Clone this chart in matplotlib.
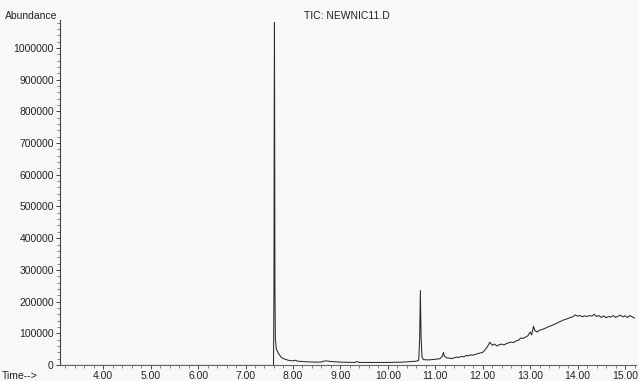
import matplotlib.pyplot as plt
from matplotlib.ticker import MultipleLocator

plt.rcParams['font.family'] = ['Liberation Sans', 'DejaVu Sans']

# retention time (min) and abundance
baseline_time = [3.09, 7.59]
baseline_abund = [0, 0]

time = [7.59, 7.60, 7.605, 7.61, 7.615, 7.62, 7.63, 7.65, 7.70, 7.75, 7.80, 7.90,
        8.00, 8.05, 8.10, 8.30, 8.50, 8.60, 8.65, 8.70, 8.80, 9.00, 9.30, 9.35,
        9.40, 9.70, 10.00, 10.30, 10.60, 10.65, 10.67, 10.685, 10.70, 10.72, 10.75,
        10.85, 11.00, 11.10, 11.15, 11.17, 11.19, 11.25,
        11.30, 11.35, 11.40, 11.45, 11.50, 11.55, 11.60, 11.65, 11.70, 11.75,
        11.80, 11.85, 11.90, 11.95, 12.00, 12.05, 12.10, 12.15, 12.20, 12.25,
        12.30, 12.35, 12.40, 12.45, 12.50, 12.55, 12.60, 12.65, 12.70, 12.75,
        12.80, 12.85, 12.90, 12.95, 13.00, 13.03, 13.07, 13.10, 13.15, 13.20,
        13.25, 13.30, 13.35, 13.40, 13.45, 13.50, 13.55, 13.60, 13.65, 13.70,
        13.75, 13.80, 13.85, 13.90, 13.95, 14.00, 14.05, 14.10, 14.15, 14.20,
        14.25, 14.30, 14.35, 14.40, 14.45, 14.50, 14.55, 14.60, 14.65, 14.70,
        14.75, 14.80, 14.85, 14.90, 14.95, 15.00, 15.05, 15.10, 15.15, 15.20]
abundance = [0, 250000, 800000, 1080000, 700000, 250000, 80000, 50000, 35000, 25000, 20000, 15000,
             13000, 15000, 12000, 10000, 9000, 9500, 12000, 13000, 11000, 9000, 8000, 11000,
             8000, 8000, 8000, 9000, 12000, 15000, 80000, 235000, 90000, 25000, 17000,
             16000, 18000, 20000, 28000, 40000, 28000, 22000,
             22000, 20000, 23000, 25000, 24000, 27000, 26000, 30000, 29000, 32000,
             31000, 34000, 36000, 38000, 40000, 48000, 58000, 72000, 62000, 66000,
             60000, 64000, 66000, 63000, 68000, 70000, 72000, 71000, 76000, 78000,
             85000, 84000, 88000, 92000, 104000, 95000, 122000, 108000, 104000, 110000,
             112000, 115000, 118000, 122000, 124000, 128000, 131000, 135000, 138000, 142000,
             144000, 147000, 150000, 152000, 158000, 154000, 156000, 152000, 155000, 153000,
             156000, 154000, 160000, 153000, 156000, 150000, 155000, 149000, 153000, 151000,
             156000, 150000, 154000, 157000, 152000, 155000, 150000, 156000, 152000, 148000]

xticks = [4, 5, 6, 7, 8, 9, 10, 11, 12, 13, 14, 15]
yticks = [0, 100000, 200000, 300000, 400000, 500000, 600000, 700000, 800000, 900000, 1000000]

fig = plt.figure(figsize=(6.39, 3.81), dpi=100, facecolor='#f8f8fa')
ax = fig.add_axes([60 / 639, 16 / 381, 576 / 639, 345 / 381])
ax.set_facecolor('#f8f8fa')

ax.plot(baseline_time, baseline_abund, color='#8cc47a', lw=1.0)
ax.plot(time, abundance, color='#2a2a2a', lw=0.75)

ax.set_xlim(3.09, 15.23)
ax.set_ylim(0, 1088000)

for s in ['top', 'right']:
    ax.spines[s].set_visible(False)
ax.spines['left'].set_color('#444444')
ax.spines['bottom'].set_color('#666666')
ax.spines['left'].set_linewidth(0.8)
ax.spines['bottom'].set_linewidth(0.8)

ax.set_xticks(xticks)
ax.set_xticklabels(['%.2f' % t for t in xticks])
ax.xaxis.set_minor_locator(MultipleLocator(0.2))
ax.set_yticks(yticks)
ax.set_yticklabels([str(v) for v in yticks])
ax.yaxis.set_minor_locator(MultipleLocator(20000))

ax.tick_params(axis='both', which='major', labelsize=7.5, length=3, width=0.7,
               color='#444444', labelcolor='#222222', pad=1.5)
ax.tick_params(axis='both', which='minor', length=2, width=0.5, color='#555555')

fig.text(5 / 639, 1 - 16 / 381, 'Abundance', fontsize=7.5, color='#222222', va='center', ha='left')
fig.text(347 / 639, 1 - 16 / 381, 'TIC: NEWNIC11.D', fontsize=7.5, color='#222222', va='center', ha='center')
fig.text(2 / 639, 1 - 376 / 381, 'Time-->', fontsize=7.5, color='#222222', va='center', ha='left')

fig.savefig('out.png', dpi=100, facecolor=fig.get_facecolor())
